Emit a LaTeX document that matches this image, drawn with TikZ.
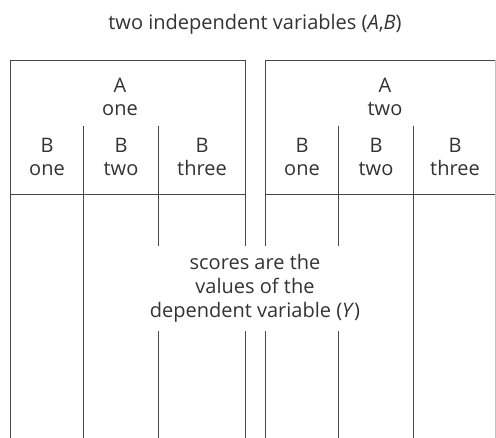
\documentclass[tikz,border=0pt]{standalone}
\usepackage{fontspec}
\setmainfont{Open Sans}
\begin{document}
\begin{tikzpicture}[x=1pt,y=-1pt,
  rule/.style={draw=black!72, line width=0.9pt},
  faint/.style={draw=black!25, line width=0.8pt},
  lbl/.style={text=black!80, font=\fontsize{20}{23}\selectfont, align=center, inner sep=0pt}]
\useasboundingbox (0,0) rectangle (496,438);
\fill[white] (0,0) rectangle (496,438);
% title
\node[lbl] (title) at (255,24) {two independent variables (\textit{A},\textit{B})};
% left block
\draw[rule] (10,438) -- (10,60.5) -- (245.5,60.5) -- (245.5,246);
\draw[rule] (245.5,331) -- (245.5,438);
\draw[rule] (10,194) -- (245.5,194);
\draw[rule] (83,126) -- (83,438);
\draw[rule] (158,126) -- (158,246);
\draw[rule] (158,331) -- (158,438);
% right block
\draw[rule] (265,246) -- (265,60.5) -- (496,60.5);
\draw[rule] (265,331) -- (265,438);
\draw[rule] (265,194) -- (496,194);
\draw[rule] (338,126) -- (338,246);
\draw[rule] (338,331) -- (338,438);
\draw[rule] (413,126) -- (413,438);
\draw[faint] (495.5,60.5) -- (495.5,438);
% headings
\node[lbl] (aone) at (120,97) {A\\one};
\node[lbl] (atwo) at (385,97) {A\\two};
\node[lbl] (b11) at (47,157) {B\\one};
\node[lbl] (b12) at (121,157) {B\\two};
\node[lbl] (b13) at (202,157) {B\\three};
\node[lbl] (b21) at (302,157) {B\\one};
\node[lbl] (b22) at (376,157) {B\\two};
\node[lbl] (b23) at (455,157) {B\\three};
% centre text
\node[lbl, font=\fontsize{20}{24}\selectfont] (scores) at (255,288) {scores are the\\values of the\\dependent variable (\textit{Y})};
\end{tikzpicture}
\end{document}
